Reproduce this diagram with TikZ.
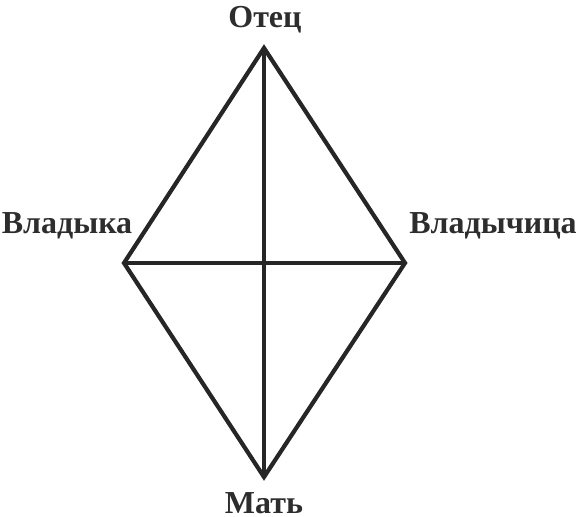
\documentclass[tikz,border=0pt]{standalone}
\usepackage{fontspec}
\setmainfont{Liberation Serif}
\tikzset{
  edge/.style={line width=4.2pt, draw={rgb,255:red,38;green,38;blue,38}, line join=miter},
  lbl/.style={inner sep=0pt, anchor=base, text depth=0pt, font=\fontsize{32}{34}\selectfont\bfseries, text={rgb,255:red,45;green,45;blue,45}}
}
\begin{document}
\begin{tikzpicture}[x=1pt,y=1pt]
\useasboundingbox (0,0) rectangle (580,516);
\coordinate (T) at (264,468);
\coordinate (B) at (264,39);
\coordinate (L) at (124,253);
\coordinate (R) at (405,253);
\draw[edge] (T) -- (R) -- (B) -- (L) -- cycle;
\draw[edge] (T) -- (B);
\draw[edge] (L) -- (R);
\node[lbl] (otec) at (265,488) {Отец};
\node[lbl] (vladyka) at (67,282) {Владыка};
\node[lbl] (vladychica) at (493,282) {Владычица};
\node[lbl] (mat) at (264,3) {Мать};
\end{tikzpicture}
\end{document}
